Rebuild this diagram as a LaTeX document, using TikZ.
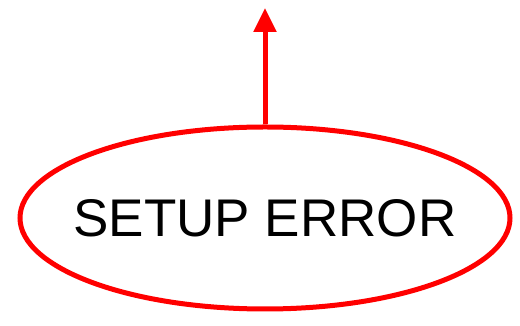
\documentclass[tikz,border=0pt]{standalone}
\usepackage{fontspec}
\setmainfont{Liberation Sans}
\usetikzlibrary{shapes.geometric,arrows.meta}
\begin{document}
\begin{tikzpicture}[
        x=1pt, y=1pt,
        errstate/.style={ellipse, draw=red, line width=5pt, minimum width=490pt, minimum height=182pt, inner sep=0pt},
        errlabel/.style={font=\fontsize{53}{60}\selectfont},
        exitarrow/.style={-{Triangle[length=24pt,width=22pt]}, line width=5pt, red}
    ]
        \useasboundingbox (0,0) rectangle (520,326);
        % === Error state ===
        \node[errstate] (err) at (265,108) {};
        \node[errlabel] (errtext) at (err.center) {SETUP ERROR};
        \coordinate (up) at (265,318);
        \draw[exitarrow] (err.north) -- (up);
    \end{tikzpicture}
\end{document}
